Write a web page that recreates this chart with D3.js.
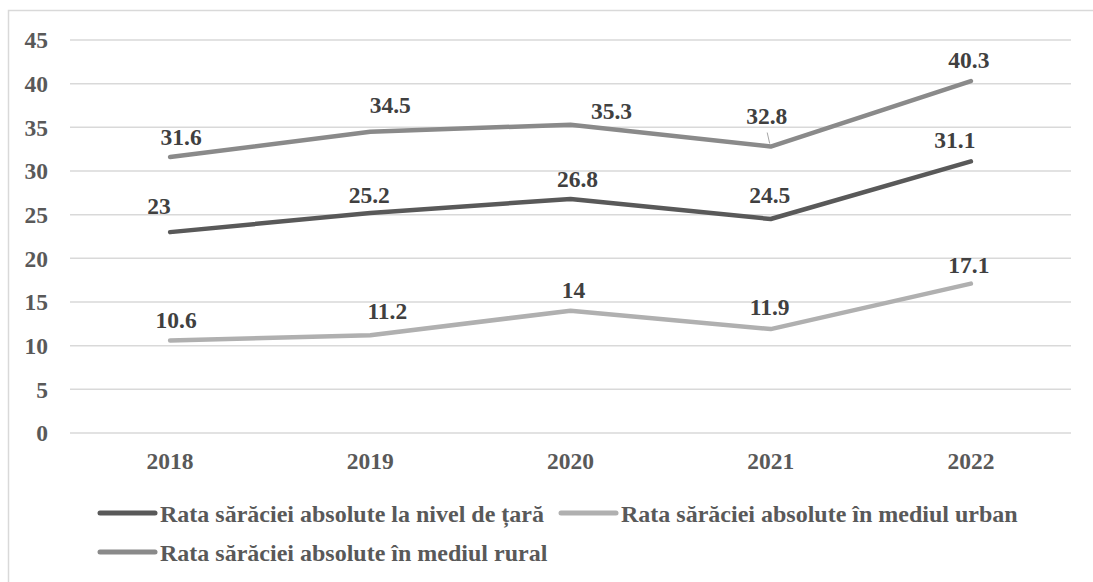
<!DOCTYPE html>
<html>
<head>
<meta charset="utf-8">
<script src="https://cdn.jsdelivr.net/npm/d3@7"></script>
<style>
  html, body { margin: 0; padding: 0; background: #fff; }
  svg { display: block; }
  text { font-family: "Liberation Serif", "Times New Roman", "DejaVu Serif", serif; font-weight: bold; }
</style>
</head>
<body>
<svg id="chart" width="1093" height="582"></svg>
<script>
// ---- data ----
const years = ["2018", "2019", "2020", "2021", "2022"];
const yTicks = [0, 5, 10, 15, 20, 25, 30, 35, 40, 45];
const seriesNames = [
  "Rata sărăciei absolute la nivel de țară",
  "Rata sărăciei absolute în mediul urban",
  "Rata sărăciei absolute în mediul rural"
];
const national = [23, 25.2, 26.8, 24.5, 31.1];
const urban = [10.6, 11.2, 14, 11.9, 17.1];
const rural = [31.6, 34.5, 35.3, 32.8, 40.3];

// ---- layout / style (not data) ----
const colors = ["#595959", "#b0b0b0", "#8a8a8a"];
// label nudges relative to the point [dx, dy of baseline]
const nudges = [
  [[-11, -18], [-1, -10], [7, -12], [-1, -16], [-16, -13]],
  [[6, -12], [17, -16], [3, -13], [-1, -14], [-2, -11]],
  [[11, -12], [20, -19], [41, -6], [-4, -23], [-2, -13]]
];

const svg = d3.select("#chart");
const W = 1093, H = 582;

// outer frame
svg.append("rect").attr("x", 8.5).attr("y", 10.5).attr("width", W + 10).attr("height", H + 10)
  .attr("fill", "none").attr("stroke", "#d9d9d9").attr("stroke-width", 1.5);

const x = d3.scaleBand().domain(years).range([70, 1071]).paddingInner(0).paddingOuter(0);
const y = d3.scaleLinear().domain([0, 45]).range([433, 40]);
const cx = d => x(d) + x.bandwidth() / 2;

// gridlines
svg.append("g").selectAll("line").data(yTicks).join("line")
  .attr("x1", 70).attr("x2", 1071)
  .attr("y1", d => y(d)).attr("y2", d => y(d))
  .attr("stroke", "#d9d9d9").attr("stroke-width", 1.5);

const FONT = '"Liberation Serif", "Times New Roman", "DejaVu Serif", serif';

// y axis labels
const yAxis = d3.axisLeft(y).tickValues(yTicks).tickSize(0).tickPadding(0).tickFormat(d3.format("d"));
const gy = svg.append("g").attr("transform", "translate(48,0)").call(yAxis);
gy.attr("font-family", FONT);
gy.select(".domain").remove();
gy.selectAll("text").attr("font-size", 23.5).attr("fill", "#595959")
  .attr("font-weight", "bold").attr("dy", "0.33em").attr("x", 0);

// x axis labels
const xAxis = d3.axisBottom(x).tickSize(0).tickPadding(0);
const gx = svg.append("g").attr("transform", "translate(0,469)").call(xAxis);
gx.attr("font-family", FONT);
gx.select(".domain").remove();
gx.selectAll("text").attr("font-size", 23.5).attr("fill", "#595959")
  .attr("font-weight", "bold").attr("dy", 0).attr("y", 0);

const allSeries = [national, urban, rural];
const line = d3.line().x((d, i) => cx(years[i])).y(d => y(d));

// draw order: rural, national, urban
[2, 0, 1].forEach(si => {
  svg.append("path").datum(allSeries[si]).attr("d", line)
    .attr("fill", "none").attr("stroke", colors[si]).attr("stroke-width", 4.5)
    .attr("stroke-linecap", "round").attr("stroke-linejoin", "round");
});

// leader line for 32.8
{
  const px = cx(years[3]), py = y(rural[3]);
  svg.append("line").attr("x1", px - 3.5).attr("y1", py - 14).attr("x2", px - 1).attr("y2", py - 3)
    .attr("stroke", "#a6a6a6").attr("stroke-width", 1);
}

// data labels
allSeries.forEach((vals, si) => {
  svg.append("g").selectAll("text").data(vals).join("text")
    .attr("x", (d, i) => cx(years[i]) + nudges[si][i][0])
    .attr("y", (d, i) => y(d) + nudges[si][i][1])
    .attr("text-anchor", "middle").attr("font-size", 23.5).attr("fill", "#404040")
    .text(d => String(d));
});

// legend
const legendItems = [
  { s: 0, lx: 100, ly: 513, tx: 160, ty: 522 },
  { s: 1, lx: 561, ly: 513, tx: 621, ty: 522 },
  { s: 2, lx: 100, ly: 552, tx: 160, ty: 561 }
];
const lg = svg.append("g");
legendItems.forEach(it => {
  lg.append("line").attr("x1", it.lx).attr("x2", it.lx + 55).attr("y1", it.ly).attr("y2", it.ly)
    .attr("stroke", colors[it.s]).attr("stroke-width", 5).attr("stroke-linecap", "round");
  lg.append("text").attr("x", it.tx).attr("y", it.ty).attr("font-size", 24).attr("fill", "#595959")
    .text(seriesNames[it.s]);
});
</script>
</body>
</html>
